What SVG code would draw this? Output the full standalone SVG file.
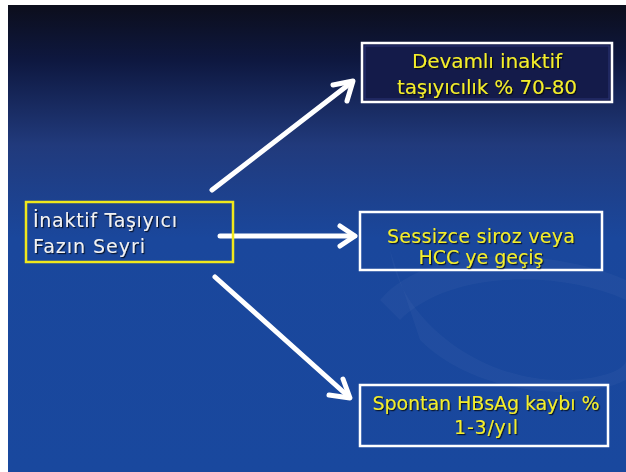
<svg xmlns="http://www.w3.org/2000/svg" width="626" height="472" viewBox="0 0 626 472">
  <defs>
    <linearGradient id="bg" x1="0" y1="0" x2="0" y2="1">
      <stop offset="0" stop-color="#0c0e1c"/>
      <stop offset="0.12" stop-color="#0e1840"/>
      <stop offset="0.3" stop-color="#213a7c"/>
      <stop offset="0.5" stop-color="#1a479c"/>
      <stop offset="1" stop-color="#19489e"/>
    </linearGradient>
    <filter id="sh" x="-10%" y="-30%" width="120%" height="160%">
      <feDropShadow dx="1.2" dy="1.2" stdDeviation="0.6" flood-color="#000" flood-opacity="0.7"/>
    </filter>
  </defs>
  <style>
    .box { fill: none; stroke: #ffffff; stroke-width: 2.5; }
    .ylw { font-family: "DejaVu Sans", "Liberation Sans", sans-serif; font-size: 19px; fill: #f4ee2a; text-anchor: middle; filter: url(#sh); }
    .big { font-size: 20px; }
    .wht { font-family: "DejaVu Sans", "Liberation Sans", sans-serif; font-size: 19px; fill: #f2f2f2; filter: url(#sh); }
    .arr { fill: none; stroke: #ffffff; stroke-width: 5; stroke-linecap: round; stroke-linejoin: round; }
  </style>
  <rect x="0" y="0" width="626" height="472" fill="#ffffff"/>
  <rect x="8" y="5" width="618" height="467" fill="url(#bg)"/>
  <!-- faint background swooshes -->
  <path d="M380 300 C 430 240, 560 250, 626 280 L626 300 C 560 270, 450 270, 400 320 Z" fill="#ffffff" opacity="0.03"/>
  <path d="M390 250 C 400 320, 480 380, 560 380 C 600 380, 626 370, 626 360 L626 380 C 590 400, 480 400, 420 340 Z" fill="#ffffff" opacity="0.03"/>

  <g id="connectors">
    <path class="arr" d="M212 190 L352 82"/>
    <path class="arr" d="M333 85 L353 81 L347 101"/>
    <path class="arr" d="M220 236 L354 236"/>
    <path class="arr" d="M340 226 L355 236 L340 246"/>
    <path class="arr" d="M215 277 L349 397"/>
    <path class="arr" d="M329 395 L350 398 L343 379"/>
  </g>

  <g id="source">
    <rect x="26" y="202" width="207" height="60" fill="none" stroke="#f0e81c" stroke-width="2.5"/>
    <text class="wht" x="33" y="227" textLength="144" lengthAdjust="spacing">İnaktif Taşıyıcı</text>
    <text class="wht" x="33" y="253" textLength="112" lengthAdjust="spacing">Fazın Seyri</text>
  </g>

  <g id="n1">
    <rect x="362" y="43" width="250" height="59" fill="#141b4a" stroke="#ffffff" stroke-width="2.5"/>
    <rect x="365" y="46" width="244" height="53" fill="none" stroke="#2a3576" stroke-width="1"/>
    <text class="ylw big" x="487" y="68" textLength="150" lengthAdjust="spacing">Devamlı inaktif</text>
    <text class="ylw big" x="487" y="94" textLength="180" lengthAdjust="spacing">taşıyıcılık % 70-80</text>
  </g>

  <g id="n2">
    <rect class="box" x="360" y="212" width="242" height="58"/>
    <text class="ylw" x="481" y="243" textLength="188" lengthAdjust="spacing">Sessizce siroz veya</text>
    <text class="ylw" x="481" y="264" textLength="125" lengthAdjust="spacing">HCC ye geçiş</text>
  </g>

  <g id="n3">
    <rect class="box" x="360" y="385" width="248" height="61"/>
    <text class="ylw" x="486" y="410" textLength="227" lengthAdjust="spacing">Spontan HBsAg kaybı %</text>
    <text class="ylw" x="486" y="434" textLength="64" lengthAdjust="spacing">1-3/yıl</text>
  </g>
</svg>
